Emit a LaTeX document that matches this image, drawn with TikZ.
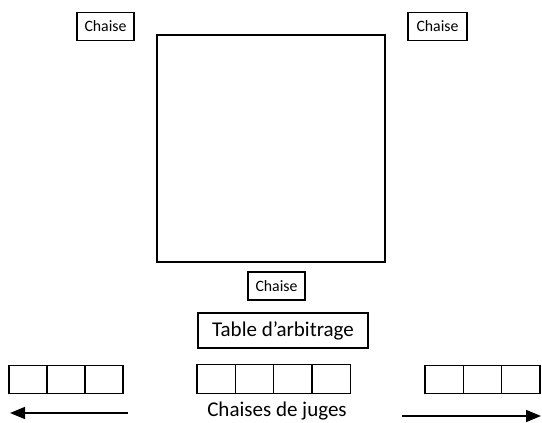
\documentclass[tikz,border=0pt]{standalone}
\usepackage{fontspec}
\setmainfont{Carlito}
\usetikzlibrary{arrows.meta}

\begin{document}
\begin{tikzpicture}[
  x=1pt, y=-1pt,
  box/.style={draw, line width=1.4pt, inner sep=0pt},
  chairbox/.style={box, minimum height=28pt, font=\fontsize{15.8}{15.8}\selectfont},
  judgebox/.style={box, minimum width=38.3pt, minimum height=28.5pt},
  move/.style={line width=1.6pt, -{Triangle[length=15pt, width=12pt]}}
]
\useasboundingbox (0,0) rectangle (542,423);

% Ring
\node[box, line width=1.3pt, minimum width=228pt, minimum height=227pt] (ring) at (271,148.5) {};

% Chairs around the ring
\node[chairbox, minimum width=57pt] (cleft) at (105.5,26.5) {Chaise};
\node[chairbox, minimum width=59pt] (cright) at (437.5,26.5) {Chaise};
\node[chairbox, minimum width=57pt] (cbottom) at (276.5,286) {Chaise};

% Table
\node[box, minimum width=170pt, minimum height=35pt, font=\fontsize{21}{21}\selectfont] (table) at (283,330.5) {Table d’arbitrage};

% Judge chairs
\foreach \i in {0,1,2}
  \node[judgebox, minimum width=38pt] (jl\i) at (28+38*\i,379.5) {};
\foreach \i in {0,...,3}
  \node[judgebox] (jm\i) at (216.2+38.3*\i,379) {};
\foreach \i in {0,1,2}
  \node[judgebox] (jr\i) at (444.2+38.3*\i,379.5) {};

\node[font=\fontsize{21}{21}\selectfont, anchor=base, inner sep=0pt] (judges) at (277,416.5) {Chaises de juges};

% Arrows
\coordinate (lfrom) at (128,413);
\coordinate (lto) at (10,413);
\coordinate (rfrom) at (402,416);
\coordinate (rto) at (541,416);
\draw[move] (lfrom) -- (lto);
\draw[move] (rfrom) -- (rto);

\end{tikzpicture}
\end{document}
